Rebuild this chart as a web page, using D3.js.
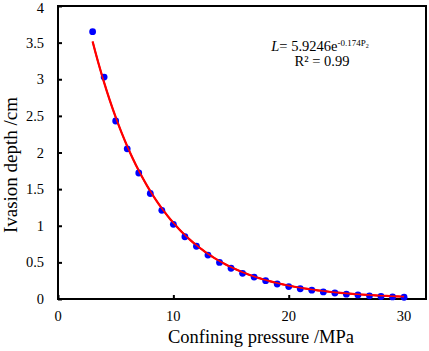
<!DOCTYPE html>
<html>
<head>
<meta charset="utf-8">
<script src="https://cdn.jsdelivr.net/npm/d3@7"></script>
<style>
  body { margin: 0; background: #fff; }
  svg { display: block; font-family: "Liberation Serif", "Times New Roman", serif; }
</style>
</head>
<body>
<svg id="chart" width="429" height="351"></svg>
<script>
"use strict";

// data
const pressure = [3, 4, 5, 6, 7, 8, 9, 10, 11, 12, 13, 14, 15, 16, 17, 18, 19, 20, 21, 22, 23, 24, 25, 26, 27, 28, 29, 30];
const depth = [3.65, 3.03, 2.43, 2.05, 1.72, 1.44, 1.21, 1.02, 0.85, 0.72, 0.60, 0.50, 0.42, 0.35, 0.30, 0.25, 0.205, 0.17, 0.14, 0.12, 0.097, 0.082, 0.066, 0.055, 0.043, 0.034, 0.028, 0.024];
const xTicks = [0, 10, 20, 30];
const yTicks = [0, 0.5, 1, 1.5, 2, 2.5, 3, 3.5, 4];

// fitted curve, from the equation printed on the chart
const fitA = 5.9246, fitB = 0.174;



// consts
const margin = { left: 58, top: 6, right: 3, bottom: 52 };
const width = 429, height = 351;

let svg = d3.select("#chart");



// scales
let scaleX = d3.scaleLinear()
.domain([0, 31.9])
.range([margin.left, width - margin.right]);

let scaleY = d3.scaleLinear()
.domain([0, 4])
.range([height - margin.bottom, margin.top]);



// frame
svg.append("rect")
.attr("x", scaleX(0))
.attr("y", scaleY(4))
.attr("width", scaleX(31.9) - scaleX(0))
.attr("height", scaleY(0) - scaleY(4))
.attr("fill", "none")
.attr("stroke", "#000")
.attr("stroke-width", 2);



// y axis
let yAxis = svg.append("g")
.attr("class", "y_axis")
.attr("transform", `translate(${scaleX(0)}, 0)`)
.call(d3.axisRight(scaleY).tickValues(yTicks).tickSize(4).tickFormat(""));
yAxis.select(".domain").remove();
yAxis.selectAll("line").attr("stroke", "#000").attr("stroke-width", 2);

svg.append("g")
.selectAll("text")
.data(yTicks)
.enter()
.append("text")
.attr("x", 44)
.attr("y", d => Math.max(scaleY(d) + 5, 13))
.attr("text-anchor", "end")
.attr("font-size", 14.5)
.text(d => d);



// x axis
let xAxis = svg.append("g")
.attr("class", "x_axis")
.attr("transform", `translate(0, ${scaleY(0)})`)
.call(d3.axisTop(scaleX).tickValues(xTicks).tickSize(4).tickFormat(""));
xAxis.select(".domain").remove();
xAxis.selectAll("line").attr("stroke", "#000").attr("stroke-width", 2);

svg.append("g")
.selectAll("text")
.data(xTicks)
.enter()
.append("text")
.attr("x", d => scaleX(d))
.attr("y", 321)
.attr("text-anchor", "middle")
.attr("font-size", 14.5)
.text(d => d);



// axis labels
svg.append("text")
.attr("x", 261)
.attr("y", 343)
.attr("text-anchor", "middle")
.attr("font-size", 18.5)
.text("Confining pressure /MPa");

svg.append("text")
.attr("transform", `translate(17, 165) rotate(-90)`)
.attr("text-anchor", "middle")
.attr("font-size", 19)
.text("Ivasion depth /cm");



// fit curve
let fitX = d3.range(3, 30.01, 0.25);
let fitLine = d3.line().x(d => scaleX(d)).y(d => scaleY(fitA * Math.exp(-fitB * d)));

svg.append("path")
.datum(fitX)
.attr("fill", "none")
.attr("stroke", "#ff0000")
.attr("stroke-width", 2.2)
.attr("d", fitLine);



// points
svg.append("g")
.selectAll("circle")
.data(pressure)
.enter()
.append("circle")
.attr("cx", d => scaleX(d))
.attr("cy", (d, i) => scaleY(depth[i]))
.attr("r", 3.4)
.attr("fill", "#0000ff");

// curve again on top of the points, as in the reference
svg.append("path")
.datum(fitX)
.attr("fill", "none")
.attr("stroke", "#ff0000")
.attr("stroke-width", 1.6)
.attr("d", fitLine);



// equation
let eq = svg.append("text")
.attr("x", 320)
.attr("y", 51)
.attr("text-anchor", "middle")
.attr("font-size", 14.5);
eq.append("tspan").attr("font-style", "italic").text("L");
eq.append("tspan").text(`= ${fitA}e`);
eq.append("tspan").attr("font-size", 9).attr("dy", -5).text(`-${fitB}P`);
eq.append("tspan").attr("font-size", 6).attr("dy", 2).text("2");

svg.append("text")
.attr("x", 322)
.attr("y", 66)
.attr("text-anchor", "middle")
.attr("font-size", 14.5)
.text("R² = 0.99");
</script>
</body>
</html>
